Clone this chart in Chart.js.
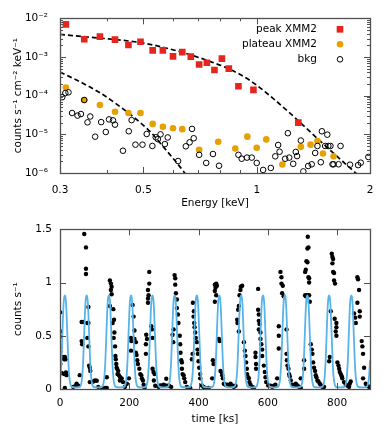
<!DOCTYPE html>
<html>
<head>
<meta charset="utf-8">
<script src="https://cdn.jsdelivr.net/npm/chart.js@4.4.0/dist/chart.umd.min.js"></script>
<style>
  html, body { margin: 0; padding: 0; background: #fff; }
  #wrap { position: relative; width: 390px; height: 433px; }
  canvas { position: absolute; left: 0; }
  #spec { top: 0; }
  #lc { top: 215px; }
</style>
</head>
<body>
<div id="wrap">
  <canvas id="spec" width="390" height="215"></canvas>
  <canvas id="lc" width="390" height="218"></canvas>
</div>
<script>
// ---- spectrum (top panel) ----
const peakEnergy = [0.311, 0.348, 0.383, 0.42, 0.456, 0.491, 0.529, 0.563, 0.599, 0.634, 0.668, 0.703, 0.737, 0.772, 0.808, 0.843, 0.894, 0.98, 1.29];
const peakFlux = [6.96e-3, 2.88e-3, 3.35e-3, 2.82e-3, 2.04e-3, 2.47e-3, 1.48e-3, 1.48e-3, 1.04e-3, 1.33e-3, 1.02e-3, 6.4e-4, 7.1e-4, 4.6e-4, 9.1e-4, 5.0e-4, 1.75e-4, 1.41e-4, 2.0e-5];

const plateauEnergy = [0.311, 0.348, 0.383, 0.42, 0.456, 0.491, 0.529, 0.563, 0.599, 0.634, 0.703, 0.79, 0.877, 0.944, 1.0, 1.06, 1.17, 1.31, 1.39, 1.45, 1.5, 1.6];
const plateauFlux = [1.62e-4, 7.7e-5, 5.75e-5, 3.85e-5, 3.56e-5, 3.56e-5, 1.86e-5, 1.56e-5, 1.44e-5, 1.36e-5, 4.0e-6, 6.4e-6, 4.3e-6, 8.7e-6, 4.5e-6, 7.4e-6, 1.66e-6, 4.75e-6, 5.4e-6, 6.7e-6, 3.2e-6, 2.7e-6];

const bkgEnergy = [0.304, 0.31, 0.316, 0.348, 0.323, 0.334, 0.341, 0.355, 0.361, 0.372, 0.386, 0.397, 0.405, 0.415, 0.42, 0.441, 0.457, 0.465, 0.476, 0.497,
  0.51, 0.528, 0.539, 0.546, 0.555, 0.57, 0.58, 0.618, 0.648, 0.663, 0.673, 0.68, 0.703, 0.734, 0.765, 0.794, 0.894, 0.912, 0.942, 0.97,
  1.0, 1.04, 1.09, 1.12, 1.14, 1.15, 1.19, 1.21, 1.22, 1.25, 1.27, 1.28, 1.31, 1.33, 1.37, 1.4, 1.43, 1.45, 1.48, 1.49,
  1.52, 1.54, 1.55, 1.57, 1.59, 1.6, 1.65, 1.67, 1.77, 1.86, 1.89, 1.98];
const bkgFlux = [9.1e-5, 1.17e-4, 1.22e-4, 7.7e-5, 3.56e-5, 3.05e-5, 3.35e-5, 2.04e-5, 2.89e-5, 8.7e-6, 2.07e-5, 1.15e-5, 2.43e-5, 2.3e-5, 1.78e-5, 3.76e-6, 1.2e-5, 2.33e-5, 5.4e-6, 5.4e-6,
  1.02e-5, 5.0e-6, 8.4e-6, 7.5e-6, 1.0e-5, 5.6e-6, 8.3e-6, 2.04e-6, 4.9e-6, 6.2e-6, 1.38e-5, 7.9e-6, 2.95e-6, 1.82e-6, 3.1e-6, 1.54e-6, 2.95e-6, 2.34e-6, 2.5e-6, 2.5e-6,
  1.82e-6, 1.2e-6, 1.35e-6, 2.7e-6, 5.3e-6, 3.55e-6, 2.34e-6, 1.07e-5, 2.5e-6, 1.73e-6, 3.5e-6, 2.74e-6, 6.9e-6, 1.1e-6, 1.52e-6, 1.68e-6, 3.3e-6, 5.0e-6, 1.9e-6, 1.2e-5,
  5.0e-6, 9.8e-6, 5.0e-6, 5.0e-6, 1.68e-6, 1.68e-6, 1.68e-6, 5.0e-6, 1.64e-6, 1.6e-6, 1.85e-6, 2.6e-6];

// dashed model curves
const modelPeakEnergy = [0.3, 0.362, 0.426, 0.5, 0.589, 0.666, 0.753, 0.849, 0.96, 1.086, 1.227, 1.386, 1.566, 1.77, 2.0];
const modelPeakFlux = [3.85e-3, 3.24e-3, 2.79e-3, 2.29e-3, 1.6e-3, 1.14e-3, 7.6e-4, 4.8e-4, 2.47e-4, 9.8e-5, 3.49e-5, 1.17e-5, 3.91e-6, 1.35e-6, 4.65e-7];
const modelBkgEnergy = [0.3, 0.333, 0.384, 0.425, 0.471, 0.521, 0.577, 0.639, 0.666];
const modelBkgFlux = [4.07e-4, 2.5e-4, 1.17e-4, 5.96e-5, 2.77e-5, 1.17e-5, 3.7e-6, 1.1e-6, 6.2e-7];

const energyTicks = [0.3, 0.5, 1, 2];
const energyLabels = ['0.3', '0.5', '1', '2'];
const energyMinor = [0.4, 0.6, 0.7, 0.8, 0.9];
const fluxTicks = [1e-6, 1e-5, 1e-4, 1e-3, 1e-2];
const fluxLabels = ['10\u207B\u2076', '10\u207B\u2075', '10\u207B\u2074', '10\u207B\u00B3', '10\u207B\u00B2'];

// ---- light curve (bottom panel) ----
// [time ks, counts/s]
const lcDots = [
  [1,0.72],[1,0.54],[1,0.49],[1,0.39],[1,0.35],[5,0.30],[9,0.30],[14,0.30],[12,0.28],[16,0.28],[1,0.235],[5,0.15],[12,0.14],[17,0.155],[19,0.13],[14,0.01],
  [38,0.02],[45,0.03],[48,0.05],[53,0.03],[57,0.13],
  [62.5,0.45],[64,0.42],[62.5,0.63],[67,0.63],[79,0.62],[82,0.62],[82,0.77],[79,0.48],[82,0.40],[84,0.22],[86,0.20],[87.5,0.17],[86,0.065],[70,1.456],[75,1.33],[75,1.13],[75,1.08],
  [96,0.07],[101,0.08],[106,0.077],[110.6,0.02],[122,0.01],[130,0.01],[135,0.01],[135,0.11],
  [144,1.02],[147,0.99],[149,0.96],[147,0.93],[149,0.89],[144,0.78],[154,0.75],[156,0.65],[152,0.62],[157,0.53],[155,0.48],[159,0.40],[160,0.31],[161,0.28],[162.5,0.235],[163.5,0.20],[165,0.19],[168,0.17],[166,0.14],[170,0.13],[174,0.11],[173,0.08],[178,0.10],[182,0.065],[187.5,0.02],[193,0.05],[199,0.10],
  [205,0.48],[206,0.45],[205,0.36],
  [209.6,0.79],[212.5,0.68],[215,0.55],[215,0.47],[219,0.44],[219,0.34],[221,0.32],[223,0.27],[225,0.235],[229,0.19],[231.7,0.14],[234.6,0.13],[236.5,0.10],[239.4,0.08],[241.4,0.04],[244,0.015],
  [248,0.33],[248,0.42],[251,0.47],[249,0.51],[254,0.81],[254,0.85],[255.8,0.88],[254,0.93],[257.7,0.99],[257.7,1.10],[263.5,0.59],[265.4,0.56],[267.3,0.48],[267.3,0.19],[270,0.16],[273,0.14],[271,0.08],[275,0.03],
  [284.6,0.02],[289.4,0.034],[294,0.03],[299,0.04],[304,0.034],[306.7,0.096],[311.5,0.03],[315,0.03],[321,0.02],
  [325,0.51],[327,0.44],[328,0.56],[330.8,1.07],[332.7,1.04],[332.7,0.98],[334.6,0.90],[337.5,0.84],[337.5,0.76],[340.4,0.70],[342,0.62],[345.8,0.50],[347.1,0.42],[348,0.34],[350,0.27],[352,0.25],[352,0.19],[354,0.14],[356.7,0.13],[358.7,0.10],[361.5,0.065],[366,0.02],[371,0.01],[376,0.01],
  [380.8,0.28],[382.7,0.33],[383.7,0.81],[386.5,0.73],[385.6,0.68],[387.5,0.62],[388.5,0.58],[390.4,0.53],[392,0.48],[395,0.44],[397,0.37],[398,0.33],[400,0.26],[402,0.20],[404.8,0.14],[404.8,0.10],[409.6,0.034],[414.4,0.02],[419,0.01],[429,0.01],
  [439.4,0.10],[441.3,0.27],[443.3,0.235],[447,0.98],[451,0.99],[453,0.97],[449,0.95],[447,0.92],[451,0.88],[447,0.82],[458.6,0.47],[460.6,0.45],[463.5,0.17],[466.3,0.16],[468.3,0.13],[470.2,0.10],[473,0.05],[477.9,0.04],[482.7,0.04],[487.5,0.034],[492.3,0.05],[497,0.034],[502,0.02],[506.7,0.03],
  [511.5,0.65],[512.5,0.62],[514.4,0.745],[516.3,0.78],[518.3,0.88],[521,0.93],[522,0.96],[526,0.97],[516.3,0.54],[530.8,0.44],[533.6,0.36],[535.6,0.31],[537.5,0.25],[539.4,0.19],[540.4,0.14],[543.3,0.11],[545,0.10],[547,0.065],[550,0.04],[554.8,0.02],[559.6,0.012],
  [564.4,0.34],[564.4,0.30],[566,0.235],[566,0.19],
  [572,0.94],[572,0.745],[574,0.70],[574,0.64],[576,0.61],[574,0.56],[578.8,0.53],[578.8,0.47],[581.3,0.42],[583.7,0.37],[583.7,0.31],[588.5,0.22],[591.3,0.16],[593.3,0.11],[595.2,0.065],[601,0.034],[607.7,0.03],[612.5,0.02],[617.3,0.03],[622,0.04],[627,0.10],
  [631.7,0.59],[631.7,0.50],[631.7,0.38],[636.5,1.10],[639.4,1.05],[639.4,0.99],[643.3,0.97],[641.3,0.90],[646,0.87],
  [654,0.56],[654,0.33],[655,0.27],[656.7,0.22],[659.6,0.19],[661.5,0.14],[663.4,0.12],[666.3,0.08],[671,0.04],[676,0.034],[680.7,0.05],[685.6,0.034],[690.4,0.02],[695,0.01],[695,0.10],
  [704.8,0.27],[704.8,0.19],[707.7,1.10],[709.6,1.12],[711.5,1.20],[714.4,1.19],[714.4,1.32],[717.3,1.33],[715.4,1.43],[717.3,1.05],[719.2,1.04],[719.2,1.00],[707.7,0.88],[709.6,0.87],[714.4,0.88],[719.2,0.88],[721.1,0.82],[724,0.42],[727,0.37],[728.8,0.33],[730.8,0.25],[733.6,0.20],[736.5,0.17],[738.4,0.13],[740.4,0.11],[743.2,0.08],[746,0.07],[750,0.05],[754,0.034],[757.6,0.02],[762.5,0.02],
  [778.8,0.30],[777,0.26],[781.7,0.73],[784.6,1.27],[786.5,1.24],[788.5,1.22],[786.5,1.18],[788.5,1.10],[791.3,1.09],[791.3,1.02],[794,0.99],[793,0.66],[798,0.62],[798,0.58],[796,0.54],[798,0.50],[801,0.25],[804,0.22],[806,0.19],[807.7,0.16],[810.6,0.14],[813.4,0.12],[815,0.10],[820,0.065],[825,0.04],[830,0.03],[834.6,0.02],[836.5,0.05],[839.4,0.07],
  [849,0.71],[852,0.67],[854,0.62],[858.6,1.05],[860.5,1.03],[863.4,0.93],[858.6,0.81],[865.4,0.73],[865.4,0.68],[871,0.45],[873,0.40],[875,0.33],[878,0.20],[875,0.10],[882.7,0.05],[887.5,0.03],[892,0.02]
];

// periodic model: pulse centres and one pulse profile (offset ks -> counts/s)
const pulseTimes = [14, 77, 141, 205, 267, 331, 395, 460, 523, 586, 649, 714, 777, 841, 905];
const pulseOffsets = [-30, -20, -16, -13, -10, -7, -4, -2, 0, 2, 4, 7, 10, 13, 16, 20, 30];
const pulseShape = [0.015, 0.02, 0.045, 0.11, 0.27, 0.53, 0.78, 0.86, 0.88, 0.86, 0.78, 0.53, 0.27, 0.11, 0.045, 0.02, 0.015];

const timeTicks = [0, 200, 400, 600, 800];
const rateTicks = [0, 0.5, 1, 1.5];

const RED = '#e5261f';
const ORANGE = '#e8a000';
const BLUE = '#56b4e9';
const FRAME = '#505050';

Chart.defaults.font.family = '"DejaVu Sans", Verdana, sans-serif';
Chart.defaults.font.size = 10.5;
Chart.defaults.color = '#000';

const pts = (xs, ys) => xs.map((x, i) => ({ x: x, y: ys[i] }));

// frame + inward ticks on all four sides
const frameTicks = {
  id: 'frameTicks',
  afterDatasetsDraw(chart, args, opts) {
    const { ctx, chartArea: a, scales } = chart;
    ctx.save();
    ctx.strokeStyle = FRAME;
    ctx.lineWidth = 1;
    ctx.beginPath();
    const xs = [...opts.xMajor.map(v => [v, 6]), ...opts.xMinor.map(v => [v, 3])];
    xs.forEach(([v, len]) => {
      const px = Math.round(scales.x.getPixelForValue(v)) + 0.5;
      if (px <= a.left + 1 || px >= a.right - 1) return;
      ctx.moveTo(px, a.bottom); ctx.lineTo(px, a.bottom - len);
      ctx.moveTo(px, a.top); ctx.lineTo(px, a.top + len);
    });
    const ys = [...opts.yMajor.map(v => [v, 6]), ...opts.yMinor.map(v => [v, 3])];
    ys.forEach(([v, len]) => {
      const py = Math.round(scales.y.getPixelForValue(v)) + 0.5;
      if (py <= a.top + 1 || py >= a.bottom - 1) return;
      ctx.moveTo(a.left, py); ctx.lineTo(a.left + len, py);
      ctx.moveTo(a.right, py); ctx.lineTo(a.right - len, py);
    });
    ctx.stroke();
    ctx.lineWidth = 1.3;
    ctx.strokeRect(Math.round(a.left) + 0.5, Math.round(a.top) + 0.5, Math.round(a.width), Math.round(a.height));
    ctx.restore();
  }
};

// gnuplot-style key: text right-aligned, symbol to the right
const keyBox = {
  id: 'keyBox',
  afterDraw(chart, args, opts) {
    if (!opts.show) return;
    const { ctx, chartArea: a } = chart;
    const items = chart.data.datasets.filter(d => d.type !== 'line');
    ctx.save();
    ctx.font = '10.5px "DejaVu Sans", Verdana, sans-serif';
    ctx.textAlign = 'right';
    ctx.textBaseline = 'middle';
    items.forEach((d, i) => {
      const y = a.top + 11 + i * 15;
      ctx.fillStyle = '#000';
      ctx.fillText(d.label, a.right - 53, y);
      const x = a.right - 30;
      if (d.pointStyle === 'rect') {
        const s = d.pointRadius * Math.SQRT1_2;
        ctx.fillStyle = d.backgroundColor;
        ctx.fillRect(x - s, y - s, 2 * s, 2 * s);
      } else {
        ctx.beginPath();
        ctx.arc(x, y, d.pointRadius, 0, Math.PI * 2);
        if (d.borderWidth) { ctx.strokeStyle = d.borderColor; ctx.lineWidth = d.borderWidth; ctx.stroke(); }
        else { ctx.fillStyle = d.backgroundColor; ctx.fill(); }
      }
    });
    ctx.restore();
  }
};

const fluxMinor = [];
fluxTicks.slice(0, -1).forEach(dec => { for (let m = 2; m <= 9; m++) fluxMinor.push(dec * m); });

new Chart(document.getElementById('spec'), {
  type: 'scatter',
  data: {
    datasets: [
      { label: 'peak XMM2', order: 2, data: pts(peakEnergy, peakFlux), pointStyle: 'rect', pointRadius: 4.7, backgroundColor: RED, borderWidth: 0 },
      { label: 'plateau XMM2', order: 1, data: pts(plateauEnergy, plateauFlux), pointStyle: 'circle', pointRadius: 3.3, backgroundColor: ORANGE, borderWidth: 0 },
      { label: 'bkg', order: 0, data: pts(bkgEnergy, bkgFlux), pointStyle: 'circle', pointRadius: 2.8, backgroundColor: 'rgba(0,0,0,0)', borderColor: '#000', borderWidth: 1 },
      { type: 'line', label: 'model peak', order: 3, data: pts(modelPeakEnergy, modelPeakFlux), borderColor: '#000', borderWidth: 1.7, borderDash: [5, 3], pointRadius: 0, fill: false, cubicInterpolationMode: 'monotone' },
      { type: 'line', label: 'model bkg', order: 3, data: pts(modelBkgEnergy, modelBkgFlux), borderColor: '#000', borderWidth: 1.7, borderDash: [5, 3], pointRadius: 0, fill: false, cubicInterpolationMode: 'monotone' }
    ]
  },
  options: {
    responsive: false,
    animation: false,
    devicePixelRatio: 1,
    layout: { padding: { left: 0, right: 20, top: 13, bottom: 2 } },
    plugins: {
      legend: { display: false },
      tooltip: { enabled: false },
      keyBox: { show: true },
      frameTicks: { xMajor: energyTicks, xMinor: energyMinor, yMajor: fluxTicks, yMinor: fluxMinor }
    },
    scales: {
      x: {
        type: 'logarithmic', min: 0.3, max: 2,
        grid: { display: false, drawTicks: false, tickLength: 0 },
        border: { display: false },
        afterBuildTicks: s => { s.ticks = energyTicks.map(v => ({ value: v })); },
        afterFit: s => { s.height = 40; },
        ticks: { autoSkip: false, maxRotation: 0, padding: 11, callback: (v, i) => energyLabels[i] },
        title: { display: true, text: 'Energy [keV]', padding: { top: 0, bottom: 3.4 } }
      },
      y: {
        type: 'logarithmic', min: 1e-6, max: 1e-2,
        grid: { display: false, drawTicks: false, tickLength: 0 },
        border: { display: false },
        afterBuildTicks: s => { s.ticks = fluxTicks.map(v => ({ value: v })); },
        afterFit: s => { s.width = 60; },
        ticks: { autoSkip: false, padding: 12, callback: (v, i) => fluxLabels[i] },
        title: { display: true, text: 'counts s\u207B\u00B9 cm\u207B\u00B2 keV\u207B\u00B9', padding: { top: 12.2, bottom: 0 } }
      }
    }
  },
  plugins: [frameTicks, keyBox]
});

// blue periodic model, built from the read pulse profile
const modelCurve = [];
pulseTimes.forEach(t0 => {
  pulseOffsets.forEach((dt, i) => modelCurve.push({ x: t0 + dt, y: pulseShape[i] }));
});

new Chart(document.getElementById('lc'), {
  type: 'scatter',
  data: {
    datasets: [
      { type: 'line', label: 'model', data: modelCurve, borderColor: BLUE, borderWidth: 1.8, pointRadius: 0, fill: false, cubicInterpolationMode: 'monotone' },
      { label: 'data', data: lcDots.map(p => ({ x: p[0], y: p[1] })), pointRadius: 2.2, backgroundColor: '#000', borderWidth: 0 }
    ]
  },
  options: {
    responsive: false,
    animation: false,
    devicePixelRatio: 1,
    layout: { padding: { left: 0, right: 20, top: 12, bottom: 2 } },
    plugins: {
      legend: { display: false },
      tooltip: { enabled: false },
      keyBox: { show: false },
      frameTicks: { xMajor: timeTicks, xMinor: [], yMajor: rateTicks, yMinor: [] }
    },
    scales: {
      x: {
        type: 'linear', min: 0, max: 895,
        grid: { display: false, drawTicks: false, tickLength: 0 },
        border: { display: false },
        afterBuildTicks: s => { s.ticks = timeTicks.map(v => ({ value: v })); },
        afterFit: s => { s.height = 42; },
        ticks: { autoSkip: false, maxRotation: 0, padding: 7.5, callback: (v, i) => String(timeTicks[i]) },
        title: { display: true, text: 'time [ks]', padding: { top: 0, bottom: 5.4 } }
      },
      y: {
        type: 'linear', min: 0, max: 1.5,
        grid: { display: false, drawTicks: false, tickLength: 0 },
        border: { display: false },
        afterBuildTicks: s => { s.ticks = rateTicks.map(v => ({ value: v })); },
        afterFit: s => { s.width = 60; },
        ticks: { autoSkip: false, padding: 8, callback: (v, i) => String(rateTicks[i]) },
        title: { display: true, text: 'counts s\u207B\u00B9', padding: { top: 12.2, bottom: 0 } }
      }
    }
  },
  plugins: [frameTicks, keyBox]
});
</script>
</body>
</html>
